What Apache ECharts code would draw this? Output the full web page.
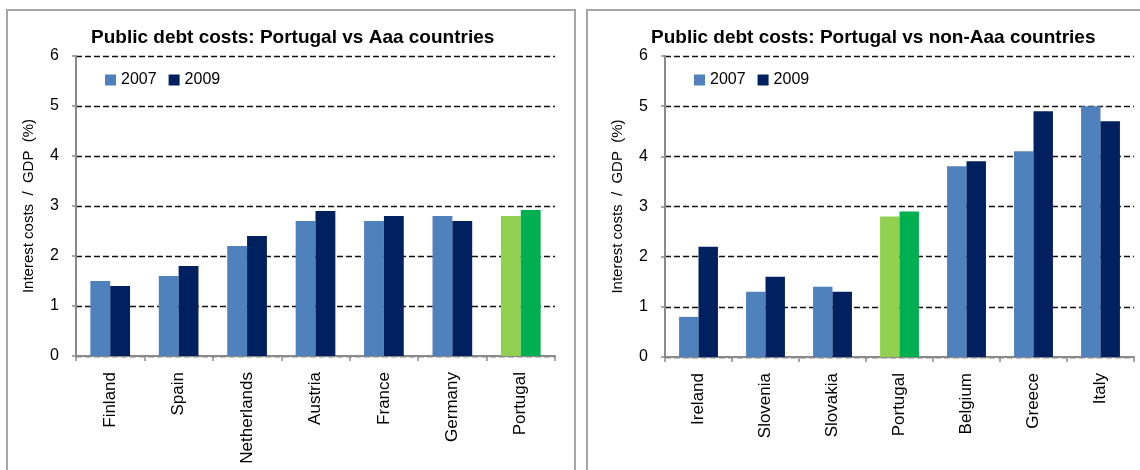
<!DOCTYPE html>
<html>
<head>
<meta charset="utf-8">
<script src="https://cdn.jsdelivr.net/npm/echarts@6/dist/echarts.min.js"></script>
<style>
  html, body { margin: 0; padding: 0; background: #fff; }
  #chart { width: 1140px; height: 470px; }
</style>
</head>
<body>
<div id="chart"></div>
<script>
// left panel: Aaa countries
var aaaCountries = ["Finland", "Spain", "Netherlands", "Austria", "France", "Germany", "Portugal"];
var aaa2007 = [1.5, 1.6, 2.2, 2.7, 2.7, 2.8, 2.8];
var aaa2009 = [1.4, 1.8, 2.4, 2.9, 2.8, 2.7, 2.92];

// right panel: non-Aaa countries
var nonAaaCountries = ["Ireland", "Slovenia", "Slovakia", "Portugal", "Belgium", "Greece", "Italy"];
var nonAaa2007 = [0.8, 1.3, 1.4, 2.8, 3.8, 4.1, 5.0];
var nonAaa2009 = [2.2, 1.6, 1.3, 2.9, 3.9, 4.9, 4.7];

var yTicks = [0, 1, 2, 3, 4, 5, 6];

var FONT = "'Liberation Sans', Arial, sans-serif";
var AXIS_GRAY = "#8a8a8a";
var c2007 = "#4f81bd", c2009 = "#002060";
var pt2007 = "#92d050", pt2009 = "#00b050";

// Portugal gets the green highlight
function barData(cats, vals, hiColor) {
  return vals.map(function (v, i) {
    if (cats[i] === "Portugal") return { value: v, itemStyle: { color: hiColor } };
    return v;
  });
}

function yAxis(gridIndex) {
  return {
    gridIndex: gridIndex,
    type: "value",
    min: yTicks[0],
    max: yTicks[yTicks.length - 1],
    interval: 1,
    name: "Interest costs  /  GDP  (%)",
    nameLocation: "middle",
    nameGap: 40,
    nameTextStyle: { fontFamily: FONT, fontSize: 15, color: "#000" },
    axisLine: { show: true, lineStyle: { color: AXIS_GRAY, width: 2 } },
    axisTick: { show: true, length: 4, lineStyle: { color: AXIS_GRAY, width: 1.5 } },
    axisLabel: { fontFamily: FONT, fontSize: 16, color: "#000", margin: 17 },
    splitLine: { show: true, lineStyle: { color: "#111", type: [6, 3], width: 1.3 } }
  };
}

function xAxis(gridIndex, cats) {
  return {
    gridIndex: gridIndex,
    type: "category",
    data: cats,
    axisLine: { lineStyle: { color: AXIS_GRAY, width: 2 } },
    axisTick: { show: true, length: 5, alignWithLabel: false, lineStyle: { color: AXIS_GRAY, width: 1.5 } },
    axisLabel: { rotate: 90, fontFamily: FONT, fontSize: 17, color: "#000", margin: 16, interval: 0 }
  };
}

function legend(left) {
  return {
    left: left,
    top: 67,
    icon: "rect",
    itemWidth: 11,
    itemHeight: 11,
    itemGap: 12,
    data: ["2007", "2009"],
    textStyle: { fontFamily: FONT, fontSize: 16, color: "#000" }
  };
}

var myChart = echarts.init(document.getElementById("chart"));
myChart.setOption({
  animation: false,
  title: [
    { text: "Public debt costs: Portugal vs Aaa countries", left: 91, top: 28, padding: 0,
      textStyle: { fontFamily: FONT, fontSize: 19, fontWeight: "bold", color: "#000" } },
    { text: "Public debt costs: Portugal vs non-Aaa countries", left: 651, top: 28, padding: 0,
      textStyle: { fontFamily: FONT, fontSize: 19, fontWeight: "bold", color: "#000" } }
  ],
  legend: [legend(100), legend(689)],
  grid: [
    { left: 76, top: 56, width: 479, height: 300 },
    { left: 665, top: 56, width: 469, height: 301 }
  ],
  xAxis: [xAxis(0, aaaCountries), xAxis(1, nonAaaCountries)],
  yAxis: [yAxis(0), yAxis(1)],
  // panel frames
  graphic: [
    { type: "rect", shape: { x: 7, y: 10, width: 568, height: 520 }, silent: true,
      style: { fill: "none", stroke: "#a6a6a6", lineWidth: 2 } },
    { type: "rect", shape: { x: 587, y: 10, width: 600, height: 520 }, silent: true,
      style: { fill: "none", stroke: "#a6a6a6", lineWidth: 2 } }
  ],
  series: [
    { name: "2007", type: "bar", xAxisIndex: 0, yAxisIndex: 0, barGap: "0%", barCategoryGap: "42%",
      itemStyle: { color: c2007 }, data: barData(aaaCountries, aaa2007, pt2007) },
    { name: "2009", type: "bar", xAxisIndex: 0, yAxisIndex: 0, barGap: "0%", barCategoryGap: "42%",
      itemStyle: { color: c2009 }, data: barData(aaaCountries, aaa2009, pt2009) },
    { name: "2007", type: "bar", xAxisIndex: 1, yAxisIndex: 1, barGap: "0%", barCategoryGap: "42%",
      itemStyle: { color: c2007 }, data: barData(nonAaaCountries, nonAaa2007, pt2007) },
    { name: "2009", type: "bar", xAxisIndex: 1, yAxisIndex: 1, barGap: "0%", barCategoryGap: "42%",
      itemStyle: { color: c2009 }, data: barData(nonAaaCountries, nonAaa2009, pt2009) }
  ]
});
</script>
</body>
</html>
